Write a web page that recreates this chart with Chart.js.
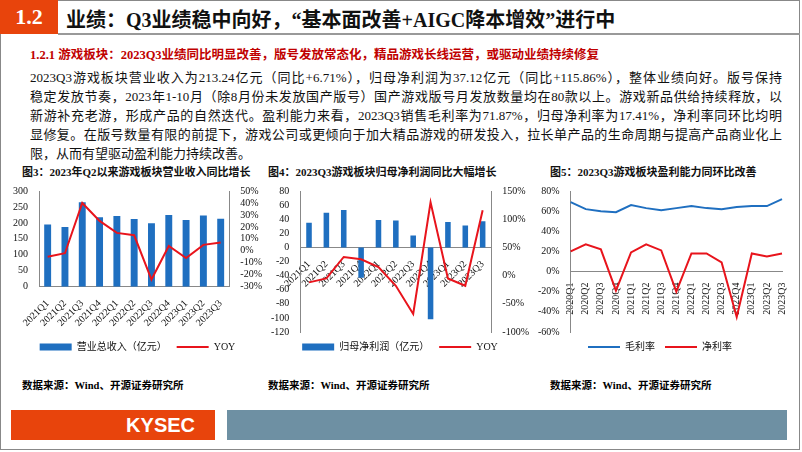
<!DOCTYPE html>
<html><head><meta charset="utf-8">
<script src="https://cdn.jsdelivr.net/npm/chart.js@4"></script>
<style>
body{margin:0;width:802px;height:452px;position:relative;overflow:hidden;background:#fff;font-family:"Liberation Serif","Noto Sans CJK SC",serif;}
.abs{position:absolute;}
.frame{left:0;top:0;width:800px;height:450px;border:1px solid #888;box-sizing:border-box;}
.num{left:0;top:0;width:58px;height:34px;background:#e8440c;color:#fff;font-size:22px;font-weight:bold;line-height:34px;text-align:center;}
.title{left:66px;top:4px;font-size:20px;font-weight:bold;color:#111;white-space:nowrap;}
.hline{left:58px;top:33px;width:742px;height:2px;background:#999;}
.sub{left:30px;top:44px;font-size:12.5px;font-weight:bold;color:#c00000;white-space:nowrap;}
.ln{left:30px;width:752px;font-size:13px;height:19px;line-height:19px;color:#111;white-space:nowrap;text-align:justify;text-align-last:justify;}
.ct{font-size:11px;font-weight:bold;color:#111;top:163px;white-space:nowrap;}
.src{font-size:10.5px;font-weight:bold;top:377px;}
.c{position:absolute;}
</style></head><body>
<div class="abs frame"></div>
<div class="abs num">1.2</div>
<div class="abs title">业绩：Q3业绩稳中向好，“基本面改善+AIGC降本增效”进行中</div>
<div class="abs hline"></div>
<div class="abs sub">1.2.1 游戏板块：2023Q3业绩同比明显改善，版号发放常态化，精品游戏长线运营，或驱动业绩持续修复</div>
<div class="abs ln" style="top:68px">2023Q3游戏板块营业收入为213.24亿元（同比+6.71%），归母净利润为37.12亿元（同比+115.86%），整体业绩向好。版号保持</div>
<div class="abs ln" style="top:87px">稳定发放节奏，2023年1-10月（除8月份未发放国产版号）国产游戏版号月发放数量均在80款以上。游戏新品供给持续释放，以</div>
<div class="abs ln" style="top:106px">新游补充老游，形成产品的自然迭代。盈利能力来看，2023Q3销售毛利率为71.87%，归母净利率为17.41%，净利率同环比均明</div>
<div class="abs ln" style="top:125px">显修复。在版号数量有限的前提下，游戏公司或更倾向于加大精品游戏的研发投入，拉长单产品的生命周期与提高产品商业化上</div>
<div class="abs ln" style="top:144px;text-align-last:left">限，从而有望驱动盈利能力持续改善。</div>
<div class="abs ct" style="left:22px">图3：2023年Q2以来游戏板块营业收入同比增长</div>
<div class="abs ct" style="left:268px">图4：2023Q3游戏板块归母净利润同比大幅增长</div>
<div class="abs ct" style="left:550px">图5：2023Q3游戏板块盈利能力同环比改善</div>
<div class="abs src" style="left:22px">数据来源：Wind、开源证券研究所</div>
<div class="abs src" style="left:268px">数据来源：Wind、开源证券研究所</div>
<div class="abs src" style="left:550px">数据来源：Wind、开源证券研究所</div>
<div class="abs" style="left:11px;top:410px;width:204px;height:30px;background:#e8440c;color:#fff;font-family:'Liberation Sans',sans-serif;font-weight:bold;font-size:20px;line-height:30px;text-align:right;padding-right:20px;box-sizing:border-box;">KYSEC</div>
<div class="abs" style="left:227px;top:410px;width:560px;height:30px;background:#6e90a3;"></div>
<div class="c" style="left:10px;top:182px;width:255px;height:180px"><canvas id="c1"></canvas></div>
<div class="c" style="left:268px;top:182px;width:264px;height:180px"><canvas id="c2"></canvas></div>
<div class="c" style="left:535px;top:182px;width:262px;height:180px"><canvas id="c3"></canvas></div>
<script>
const qA=["2021Q1","2021Q2","2021Q3","2021Q4","2022Q1","2022Q2","2022Q3","2022Q4","2023Q1","2023Q2","2023Q3"];
const revenue=[195,187,265,218,222,212,199,225,209,223,213];
const revYoy=[-5,-2,40,25,15,13,-24,4,-6,5,7];
const profit=[35,49,53,-43,39,38,17,-102,36,31,37];
const profitYoy=[-12,-5,33,29,15,-18,-68,130,-5,-18,116];
const qB=["2020Q1","2020Q2","2020Q3","2020Q4","2021Q1","2021Q2","2021Q3","2021Q4","2022Q1","2022Q2","2022Q3","2022Q4","2023Q1","2023Q2","2023Q3"];
const grossMargin=[69,62,60,59,66,63,61,63,65,63,62,64,65,65,72];
const netMargin=[20,27,22,-19,19,27,21,-20,18,18,9,-45,18,15,18];

const F="'Liberation Serif','Noto Sans CJK SC',serif";
Chart.defaults.font.family=F;Chart.defaults.font.size=10;Chart.defaults.color="#111";
Chart.defaults.animation=false;
const BLUE="#1f6fc0",RED="#e8141c";
function legLabels(chart){
  const items=Chart.defaults.plugins.legend.labels.generateLabels(chart);
  items.forEach(it=>{const ds=chart.data.datasets[it.datasetIndex];
    if(ds.type==='line'||chart.config.type==='line'){it.pointStyle='line';it.lineWidth=2;it.strokeStyle=ds.borderColor;}
    else{it.pointStyle='rect';}});
  return items.sort((a,b)=>a.datasetIndex-b.datasetIndex);
}
const leg={position:'bottom',labels:{usePointStyle:true,pointStyleWidth:32,boxHeight:7,font:{size:10},generateLabels:legLabels}};
const tick={color:'#111',font:{size:10},autoSkip:false};
const noGrid={display:false};
const pct=v=>v+'%';

new Chart(c1,{data:{labels:qA,datasets:[
 {type:'bar',label:'营业总收入（亿元）',data:revenue,backgroundColor:BLUE,yAxisID:'y',barPercentage:0.5,order:2},
 {type:'line',label:'YOY',data:revYoy,borderColor:RED,backgroundColor:RED,borderWidth:2,pointRadius:0,tension:0,yAxisID:'y1',order:1}]},
 options:{responsive:true,maintainAspectRatio:false,plugins:{legend:leg},
 scales:{x:{grid:noGrid,ticks:{...tick,maxRotation:45,minRotation:45},border:{color:'#888'}},
 y:{min:0,max:300,ticks:{...tick,stepSize:50},grid:noGrid,border:{color:'#888'}},
 y1:{position:'right',min:-30,max:50,ticks:{...tick,stepSize:10,callback:pct},grid:noGrid,border:{color:'#888'}}}}});

new Chart(c2,{data:{labels:qA,datasets:[
 {type:'bar',label:'归母净利润（亿元）',data:profit,backgroundColor:BLUE,yAxisID:'y',barPercentage:0.4,order:2},
 {type:'line',label:'YOY',data:profitYoy,borderColor:RED,backgroundColor:RED,borderWidth:2,pointRadius:0,tension:0,yAxisID:'y1',order:1}]},
 options:{responsive:true,maintainAspectRatio:false,plugins:{legend:leg},
 scales:{x:{position:{y:0},grid:noGrid,ticks:{...tick,maxRotation:45,minRotation:45},border:{color:'#888'}},
 y:{min:-120,max:80,ticks:{...tick,stepSize:20},grid:noGrid,border:{color:'#888'}},
 y1:{position:'right',min:-100,max:150,ticks:{...tick,stepSize:50,callback:pct},grid:noGrid,border:{color:'#888'}}}}});

new Chart(c3,{type:'line',data:{labels:qB,datasets:[
 {label:'毛利率',data:grossMargin,borderColor:BLUE,backgroundColor:BLUE,borderWidth:2,pointRadius:0},
 {label:'净利率',data:netMargin,borderColor:RED,backgroundColor:RED,borderWidth:2,pointRadius:0}]},
 options:{responsive:true,maintainAspectRatio:false,layout:{padding:{right:12}},plugins:{legend:leg},
 scales:{x:{position:{y:0},grid:noGrid,ticks:{...tick,maxRotation:90,minRotation:90},border:{color:'#888'}},
 y:{min:-60,max:80,ticks:{...tick,stepSize:20,callback:pct},grid:noGrid,border:{color:'#888'}}}}});
</script></body></html>
